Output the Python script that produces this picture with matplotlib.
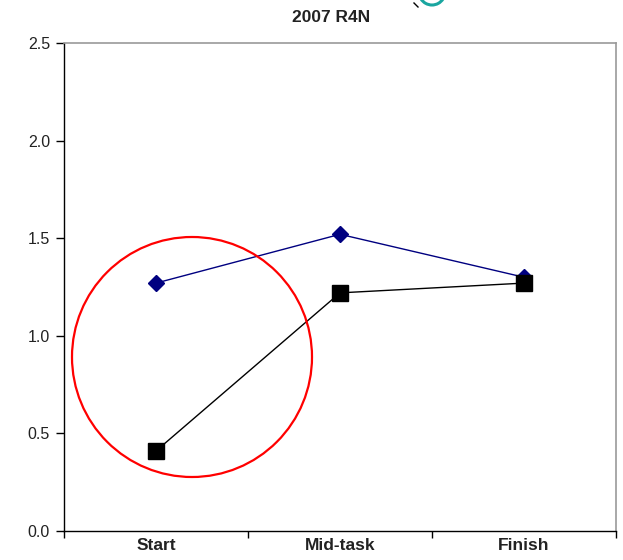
import matplotlib
matplotlib.use("Agg")
import matplotlib.pyplot as plt
from matplotlib.patches import Ellipse, Arc
import numpy as np

plt.rcParams['font.family'] = ['Liberation Sans', 'DejaVu Sans']

categories = ["Start", "Mid-task", "Finish"]
series_a = [1.27, 1.52, 1.30]   # navy diamonds
series_b = [0.41, 1.22, 1.27]   # black squares
y_ticks = [0.0, 0.5, 1.0, 1.5, 2.0, 2.5]
title = "2007 R4N"

W, H = 623, 560
fig = plt.figure(figsize=(W / 100, H / 100), dpi=100)
ax = fig.add_axes([64 / W, 29 / H, 552 / W, 488 / H])

x = np.arange(len(categories))
ax.plot(x, series_a, color="#000080", lw=1.0, marker="D", ms=8,
        markerfacecolor="#000080", markeredgecolor="#000080", zorder=3)
ax.plot(x, series_b, color="black", lw=1.0, marker="s", ms=11,
        markerfacecolor="black", markeredgecolor="black", zorder=3)

ax.set_xlim(-0.5, len(categories) - 0.5)
ax.set_ylim(0, 2.5)
ax.set_yticks(y_ticks)
ax.set_yticklabels([f"{v:.1f}" for v in y_ticks], fontsize=11.5, color="#222222")
ax.set_xticks(x)
ax.set_xticklabels(categories, fontsize=12.5, fontweight="bold", color="#222222")
ax.tick_params(axis="x", which="major", length=0, pad=5)
ax.set_xticks(np.arange(-0.5, len(categories), 1.0), minor=True)
ax.tick_params(axis="x", which="minor", length=5, direction="out", width=1)
ax.tick_params(axis="y", length=6, direction="out", width=1, pad=4)

for s in ("left", "bottom"):
    ax.spines[s].set_color("black")
    ax.spines[s].set_linewidth(1.0)
for s in ("top", "right"):
    ax.spines[s].set_color("#999999")
    ax.spines[s].set_linewidth(1.2)

fig.text(331 / W, 1 - 17 / H, title, ha="center", va="center",
         fontsize=12.5, fontweight="bold", color="#222222")

# red highlight circle around the start region (drawn in figure pixels)
circ = Ellipse((192 / W, 1 - 357 / H), 240 / W, 240 / H, fill=False,
               edgecolor="#ff0000", lw=1.6, transform=fig.transFigure,
               zorder=5)
fig.patches.append(circ)

# small teal arc at the top edge
arc = Arc((432 / W, 1 + 8 / H), 26 / W, 26 / H, theta1=215, theta2=325,
          edgecolor="#1aa6a0", lw=2.2, transform=fig.transFigure)
fig.patches.append(arc)
fig.add_artist(plt.Line2D([414 / W, 418 / W], [1 - 3 / H, 1 - 7 / H],
                          transform=fig.transFigure, color="black", lw=1.0))

fig.savefig("out.png", dpi=100, facecolor="white")
